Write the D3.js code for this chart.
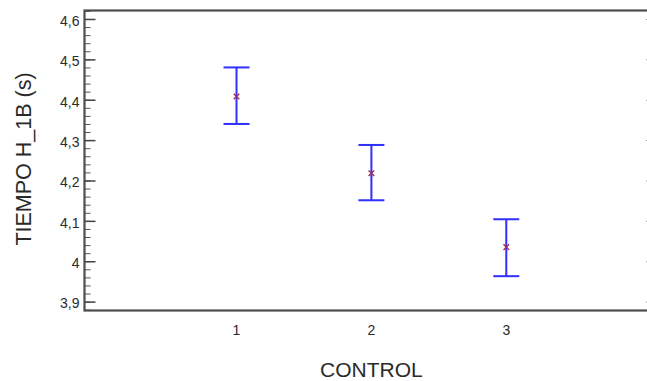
<!DOCTYPE html>
<html>
<head>
<meta charset="utf-8">
<script src="https://cdn.jsdelivr.net/npm/d3@7"></script>
<style>
	body { margin: 0; background: #fff; }
	svg { display: block; font-family: "Liberation Sans", Arial, sans-serif; }
</style>
</head>
<body>
<div id="chart"></div>
<script>
// means plot: CONTROL levels with mean and interval
const levels = [1, 2, 3];
const means = [4.408, 4.218, 4.035];
const lower = [4.340, 4.151, 3.963];
const upper = [4.480, 4.288, 4.104];

const yTicks = [3.9, 4.0, 4.1, 4.2, 4.3, 4.4, 4.5, 4.6];
const yTickLabels = ["3,9", "4", "4,1", "4,2", "4,3", "4,4", "4,5", "4,6"];
const xTickLabels = ["1", "2", "3"];

const width = 647, height = 381;
const frame = { left: 84.5, right: 656, top: 10.5, bottom: 310.5 };

let svg = d3.select("#chart").append("svg").attr("width", width).attr("height", height);

let x = d3.scaleLinear().domain([-0.127, 4.11]).range([frame.left, frame.right]);
let y = d3.scaleLinear().domain([3.878, 4.621]).range([frame.bottom, frame.top]);

let minorTicks = d3.range(3.88, 4.62, 0.02).map((d) => +d.toFixed(2));

// left axis, ticks pointing inward
let gLeft = svg.append("g").attr("transform", `translate(${frame.left},0)`);
gLeft.call(d3.axisLeft(y).tickValues(minorTicks).tickSize(-6).tickFormat(""));
gLeft.selectAll(".tick line").attr("stroke", "#555");
let gLeftMajor = svg.append("g").attr("transform", `translate(${frame.left},0)`);
gLeftMajor.call(
	d3.axisLeft(y)
		.tickValues(yTicks)
		.tickSize(-11)
		.tickPadding(5)
		.tickFormat((d, i) => yTickLabels[i])
);
gLeftMajor.selectAll(".tick line").attr("stroke", "#444").attr("stroke-width", 1.5);
gLeftMajor.selectAll(".tick text").attr("fill", "#2a2a2a").attr("font-size", 14).attr("dy", "0.45em");
svg.selectAll(".domain").remove();

// right side inward ticks
let gRight = svg.append("g").attr("transform", `translate(${frame.right},0)`);
gRight.call(d3.axisRight(y).tickValues(yTicks).tickSize(-10).tickFormat(""));
gRight.selectAll(".tick line").attr("stroke", "#999");
gRight.select(".domain").remove();

// x tick labels
svg.append("g")
	.selectAll("text")
	.data(levels)
	.enter()
	.append("text")
	.attr("x", (d) => x(d))
	.attr("y", 335)
	.attr("text-anchor", "middle")
	.attr("font-size", 14)
	.attr("fill", "#2a2a2a")
	.text((d, i) => xTickLabels[i]);

// frame
svg.append("rect")
	.attr("x", frame.left)
	.attr("y", frame.top)
	.attr("width", frame.right - frame.left)
	.attr("height", frame.bottom - frame.top)
	.attr("fill", "none")
	.attr("stroke", "#4d4d4d")
	.attr("stroke-width", 2.2);

// error bars
let bars = svg.append("g").selectAll("g").data(levels).enter().append("g");
bars.append("line")
	.attr("x1", (d) => x(d))
	.attr("x2", (d) => x(d))
	.attr("y1", (d, i) => y(upper[i]))
	.attr("y2", (d, i) => y(lower[i]))
	.attr("stroke", "#2f2fff")
	.attr("stroke-width", 2);
[upper, lower].forEach((arr) => {
	bars.append("line")
		.attr("x1", (d) => x(d) - 13)
		.attr("x2", (d) => x(d) + 13)
		.attr("y1", (d, i) => y(arr[i]))
		.attr("y2", (d, i) => y(arr[i]))
		.attr("stroke", "#2f2fff")
		.attr("stroke-width", 2);
});
// mean markers
bars.append("path")
	.attr("d", (d, i) => {
		let cx = x(d), cy = y(means[i]), s = 2.8;
		return `M${cx - s},${cy - s}L${cx + s},${cy + s}M${cx - s},${cy + s}L${cx + s},${cy - s}`;
	})
	.attr("stroke", "#a0305a")
	.attr("stroke-width", 1.4);

// axis titles
svg.append("text")
	.attr("x", x(2))
	.attr("y", 377)
	.attr("text-anchor", "middle")
	.attr("font-size", 21)
	.attr("fill", "#2a2a2a")
	.text("CONTROL");

svg.append("text")
	.attr("transform", "translate(31,159) rotate(-90)")
	.attr("text-anchor", "middle")
	.attr("font-size", 21.5)
	.attr("fill", "#2a2a2a")
	.text("TIEMPO H_1B (s)");
</script>
</body>
</html>
